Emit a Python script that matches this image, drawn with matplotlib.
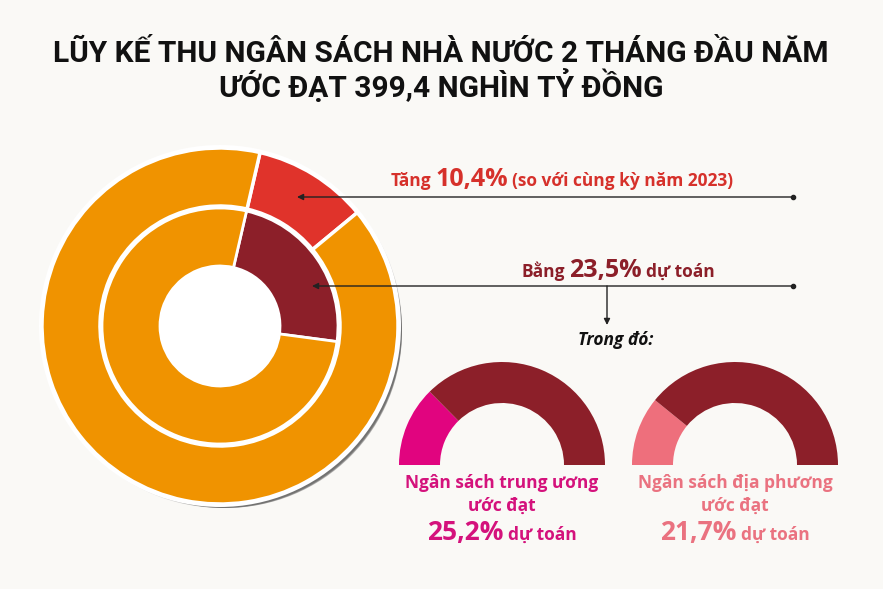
import matplotlib

matplotlib.use("Agg")
import matplotlib.pyplot as plt
from matplotlib.patches import Circle

W, H = 883, 589

TITLE_LINES = [
    "LŨY KẾ THU NGÂN SÁCH NHÀ NƯỚC 2 THÁNG ĐẦU NĂM",
    "ƯỚC ĐẠT 399,4 NGHÌN TỶ ĐỒNG",
]
GROWTH_PCT = 10.4  # vs same period 2023
BUDGET_PCT = 23.5  # share of annual estimate
SUB_LABELS = ["Ngân sách trung ương", "Ngân sách địa phương"]
SUB_PCT = [25.2, 21.7]

BG = "#faf9f6"
ORANGE = "#f09300"
RED = "#e0332b"
DARK_RED = "#8c1f29"
MAGENTA = "#e1047f"
PINK = "#ee6f7c"
TXT_RED = "#d6312b"
TXT_MAGENTA = "#d4127c"
TXT_PINK = "#ea7280"

FONT = ["Open Sans", "DejaVu Sans"]
TITLE_FONT = ["Liberation Sans Narrow", "Roboto", "DejaVu Sans"]


def Y(y):
    """image row (top=0) -> data y (bottom=0)"""
    return H - y


fig = plt.figure(figsize=(W / 100, H / 100), dpi=100, facecolor=BG)
ax = fig.add_axes([0, 0, 1, 1])
ax.set_facecolor(BG)
renderer = fig.canvas.get_renderer()


def rich_line(pieces, x, y, color, gap=4, style="normal"):
    """pieces: list of (text, fontsize); centred on x, baseline at image row y"""
    objs = [
        ax.text(0, Y(y), t, fontsize=s, color=color, fontweight="bold",
                fontstyle=style, family=FONT, ha="left", va="baseline")
        for t, s in pieces
    ]
    widths = [o.get_window_extent(renderer).width for o in objs]
    start = x - (sum(widths) + gap * (len(objs) - 1)) / 2
    for o, w in zip(objs, widths):
        o.set_x(start)
        start += w + gap


# title
for line, yb in zip(TITLE_LINES, [62, 97]):
    ax.text(441, Y(yb), line, fontsize=21.5, fontweight="bold", color="#111111",
            family=TITLE_FONT, ha="center", va="baseline")

# big double donut, with a soft drop shadow to the lower right
cx, cy = 220, Y(326)
for k, a in enumerate([0.12, 0.14, 0.16, 0.2, 0.25]):
    ax.add_patch(Circle((cx + 2 + k, cy - 2 - k), 180 - k, color="#222222",
                        alpha=a, zorder=0, lw=0))
ax.add_patch(Circle((cx, cy), 181, color="white", zorder=1, lw=0))
wp = dict(width=58, edgecolor="white", linewidth=2.5)
ax.pie([GROWTH_PCT, 100 - GROWTH_PCT], center=(cx, cy), radius=178,
       startangle=77, counterclock=False, colors=[RED, ORANGE],
       wedgeprops=wp, frame=True)
ax.pie([BUDGET_PCT, 100 - BUDGET_PCT], center=(cx, cy), radius=118,
       startangle=77, counterclock=False, colors=[DARK_RED, ORANGE],
       wedgeprops=dict(width=58, edgecolor="white", linewidth=2), frame=True)

# leader arrows
arrow = dict(arrowstyle="-|>", color="#222222", lw=1, mutation_scale=9,
             shrinkA=0, shrinkB=0)
for y_img, x_tip in [(197, 297), (286, 312)]:
    ax.annotate("", xy=(x_tip, Y(y_img)), xytext=(793, Y(y_img)),
                arrowprops=arrow)
    ax.plot(793, Y(y_img), "o", ms=3, color="#222222")
ax.annotate("", xy=(607, Y(325)), xytext=(607, Y(286)), arrowprops=arrow)

rich_line([("Tăng", 12.5), (f"{GROWTH_PCT:.1f}%".replace(".", ","), 18),
           ("(so với cùng kỳ năm 2023)", 12.5)], 562, 186, TXT_RED)
rich_line([("Bằng", 12.5), (f"{BUDGET_PCT:.1f}%".replace(".", ","), 18),
           ("dự toán", 12.5)], 618, 277, DARK_RED)
rich_line([("Trong đó:", 12.5)], 616, 345, "#111111", style="italic")

# half donuts
sub_colors = [MAGENTA, PINK]
sub_txt = [TXT_MAGENTA, TXT_PINK]
for xc, lab, pct, col, tcol in zip([502, 735], SUB_LABELS, SUB_PCT,
                                   sub_colors, sub_txt):
    ax.pie([pct, 100 - pct, 100], center=(xc, Y(465)), radius=103,
           startangle=180, counterclock=False,
           colors=[col, DARK_RED, "none"],
           wedgeprops=dict(width=41, linewidth=0), frame=True)
    rich_line([(lab, 12.5)], xc, 488, tcol)
    rich_line([("ước đạt", 12.5)], xc, 511, tcol)
    rich_line([(f"{pct:.1f}%".replace(".", ","), 19), ("dự toán", 12.5)],
              xc, 540, tcol)

ax.set_xlim(0, W)
ax.set_ylim(0, H)
ax.set_aspect("equal")
ax.axis("off")
fig.savefig("out.png", dpi=100, facecolor=BG)
